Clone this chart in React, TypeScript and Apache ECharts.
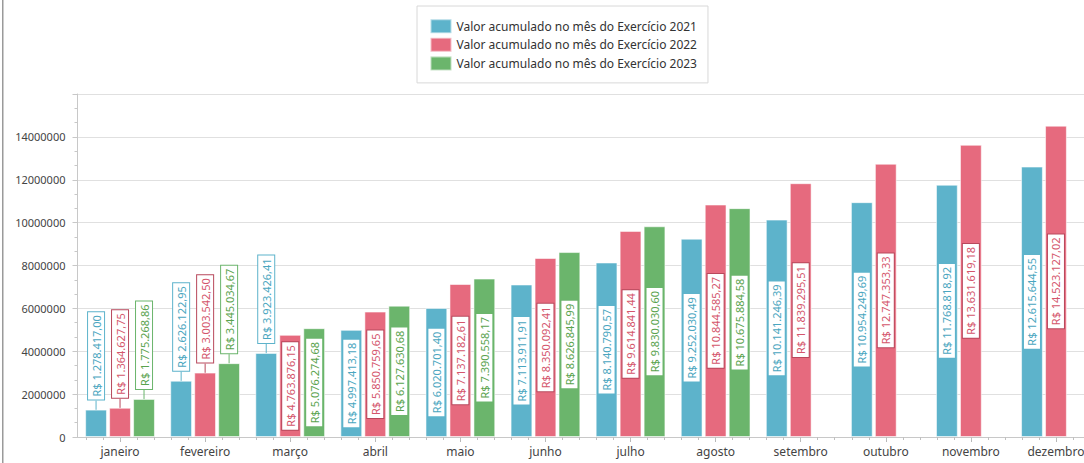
import React, { useEffect, useRef } from "react";
import * as echarts from "echarts";

const months = ["janeiro", "fevereiro", "março", "abril", "maio", "junho", "julho", "agosto", "setembro", "outubro", "novembro", "dezembro"];
const seriesNames = [
  "Valor acumulado no mês do Exercício 2021",
  "Valor acumulado no mês do Exercício 2022",
  "Valor acumulado no mês do Exercício 2023",
];
const values2021 = [1278417.0, 2626122.95, 3923426.41, 4997413.18, 6020701.4, 7113911.91, 8140790.57, 9252030.49, 10141246.39, 10954249.69, 11768818.92, 12615644.55];
const values2022 = [1364627.75, 3003542.5, 4763876.15, 5850759.65, 7137182.61, 8350092.41, 9614841.44, 10844585.27, 11839295.51, 12747353.33, 13631619.18, 14523127.02];
const values2023 = [1775268.86, 3445034.67, 5076274.68, 6127630.68, 7390558.17, 8626845.99, 9830030.6, 10675884.58, null, null, null, null];

const barColors = ["#5db3cb", "#e66a7e", "#6bb56c"];
const labelTextColors = ["#4aa6c0", "#d4566c", "#5aa34e"];
const labelBorderColors = ["#5db3cb", "#b8485c", "#6bb56c"];

const fmtBRL = (v: number) => {
  const fixed = v.toFixed(2);
  const [intPart, dec] = fixed.split(".");
  const withDots = intPart.replace(/\B(?=(\d{3})+(?!\d))/g, ".");
  return "R$ " + withDots + "," + dec;
};

const OUTSIDE_LIMIT = 4400000;

function buildSeries(name: string, values: (number | null)[], idx: number) {
  const baseLabel = {
    show: true,
    rotate: 90,
    formatter: (p: any) => fmtBRL(p.value),
    color: labelTextColors[idx],
    backgroundColor: "#ffffff",
    borderColor: labelBorderColors[idx],
    borderWidth: 1,
    padding: [2, 3, 1, 3],
    fontSize: 11,
    lineHeight: 13,
    fontFamily: "Noto Sans",
  };
  return {
    name,
    type: "bar",
    barGap: "10%",
    barCategoryGap: "18%",
    itemStyle: { color: barColors[idx], borderColor: "rgba(255,255,255,0.55)", borderWidth: 1 },
    label: { ...baseLabel, position: "inside" },
    labelLine: { show: false },
    data: values.map((v) => {
      if (v === null) return null;
      const outside = v < OUTSIDE_LIMIT;
      return outside
        ? {
            value: v,
            label: { ...baseLabel, position: "top", distance: 10, align: "left", verticalAlign: "middle" },
            labelLine: { show: true, lineStyle: { color: labelBorderColors[idx], width: 1 } },
          }
        : { value: v };
    }),
  };
}

export default function App() {
  const ref = useRef<HTMLDivElement>(null);
  useEffect(() => {
    if (!ref.current) return;
    const chart = echarts.init(ref.current, null, { renderer: "svg" });
    chart.setOption({
      animation: false,
      backgroundColor: "#ffffff",
      graphic: [
        { type: "rect", left: 2, top: 0, shape: { width: 1.5, height: 463 }, style: { fill: "#9a9a9a" } },
      ],
      legend: {
        data: seriesNames,
        orient: "vertical",
        left: 417,
        top: 6,
        padding: [12.2, 11, 11.5, 12.5],
        itemGap: 2.6,
        itemWidth: 21,
        itemHeight: 14,
        icon: "rect",
        borderColor: "#d8d8d8",
        borderWidth: 1,
        backgroundColor: "#ffffff",
        textStyle: { fontSize: 12, lineHeight: 14, color: "#333", fontFamily: "Noto Sans" },
      },
      grid: { left: 77.5, right: 0.5, top: 94, bottom: 26, containLabel: false },
      xAxis: [
        {
          type: "category",
          data: months,
          axisLine: { lineStyle: { color: "#c8c8c8" } },
          axisTick: { show: true, alignWithLabel: true, length: 5, lineStyle: { color: "#b8b8b8" } },
          axisLabel: { color: "#444", fontSize: 12, margin: 8, fontFamily: "Noto Sans", interval: 0 },
        },
        {
          type: "category",
          data: Array(60).fill(""),
          position: "bottom",
          axisLine: { show: false },
          axisTick: { show: true, alignWithLabel: true, interval: 0, length: 3, lineStyle: { color: "#c0c0c0" } },
          axisLabel: { show: false },
          splitLine: { show: false },
        },
      ],
      yAxis: {
        type: "value",
        min: 0,
        max: 16000000,
        interval: 2000000,
        axisLine: { show: true, lineStyle: { color: "#c8c8c8" } },
        axisTick: { show: true, length: 5, lineStyle: { color: "#c8c8c8" } },
        minorTick: { show: true, splitNumber: 3, length: 3, lineStyle: { color: "#c8c8c8" } },
        splitLine: { lineStyle: { color: "#e0e0e0" } },
        axisLabel: {
          color: "#444",
          fontSize: 11,
          margin: 12,
          fontFamily: "Noto Sans",
          showMaxLabel: false,
          formatter: (v: number) => String(v),
        },
      },
      series: [
        buildSeries(seriesNames[0], values2021, 0),
        buildSeries(seriesNames[1], values2022, 1),
        buildSeries(seriesNames[2], values2023, 2),
      ],
    });
    return () => chart.dispose();
  }, []);
  return <div ref={ref} style={{ position: "fixed", left: 0, top: 0, width: 1099, height: 463 }} />;
}
